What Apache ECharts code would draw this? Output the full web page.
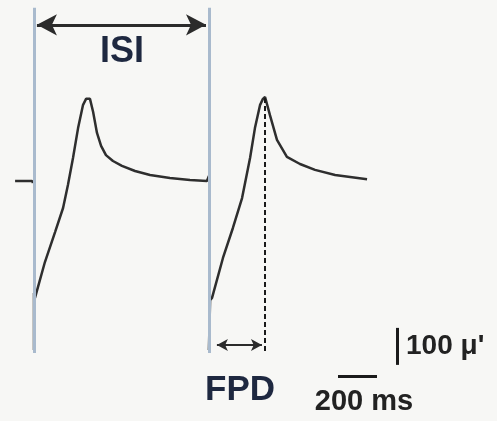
<!DOCTYPE html>
<html>
<head>
<meta charset="utf-8">
<script src="https://cdn.jsdelivr.net/npm/echarts@6/dist/echarts.min.js"></script>
<style>
  html, body { margin: 0; padding: 0; background: #f7f7f5; }
  #chart { width: 497px; height: 421px; }
</style>
</head>
<body>
<div id="chart"></div>
<script>
// Field potential trace, x in ms, y in µV (0 = baseline).
const leadIn = [[-97, 0], [-10, 0], [-5, -5]];
const cycle1 = [
  [0, -457], [0, -303], [5, -316], [56, -219], [108, -138], [149, -73], [174, -11],
  [200, 62], [226, 143], [251, 205], [267, 222], [277, 227], [287, 222], [303, 187],
  [323, 130], [344, 95], [369, 70], [405, 54], [451, 41], [518, 27], [595, 16],
  [697, 8], [800, 3], [887, 0], [897, 14]
];
const cycle2 = [
  [897, -457], [903, -322], [913, -316], [969, -208], [1020, -127], [1067, -46],
  [1108, 62], [1133, 143], [1159, 205], [1174, 222], [1185, 227], [1195, 222],
  [1210, 178], [1246, 111], [1297, 65], [1364, 46], [1441, 30], [1544, 16], [1708, 5]
];
// stimulus markers (ms) and their vertical extent (µV)
const markerTimes = [0, 897];
const markerRange = [-465, 468];
// ISI arrow: [start ms, end ms, µV]
const isiArrow = [15, 882, 422];
// FPD arrow and peak line
const fpdArrow = [938, 1169, -443];
const peakLine = [1185, 224, -462];
// scale bars: 100 µV and 200 ms
const vBar = [1862, -397, -497];
const hBar = [1559, 1759, -527];

const msPerPx = 200 / 39;
const uvPerPx = 100 / 37;

const chart = echarts.init(document.getElementById('chart'));

function seg(a, b) {
  return [{ coord: a }, { coord: b }];
}

chart.setOption({
  animation: false,
  backgroundColor: '#f7f7f5',
  grid: { left: 0, right: 0, top: 0, bottom: 0 },
  xAxis: { type: 'value', min: -34 * msPerPx, max: 463 * msPerPx, show: false },
  yAxis: { type: 'value', min: -240 * uvPerPx, max: 181 * uvPerPx, show: false },
  series: [
    {
      type: 'line', z: 1, data: [], silent: true,
      markLine: {
        silent: true, symbol: 'none', label: { show: false },
        lineStyle: { color: '#a9bacd', width: 3, type: 'solid' },
        data: markerTimes.map(function (t) { return seg([t, markerRange[0]], [t, markerRange[1]]); })
      }
    },
    {
      type: 'line', z: 2, data: [], silent: true,
      markLine: {
        silent: true, symbol: ['arrow', 'arrow'], symbolSize: [16, 20], label: { show: false },
        lineStyle: { color: '#2b2b2b', width: 3, type: 'solid' },
        data: [seg([isiArrow[0], isiArrow[2]], [isiArrow[1], isiArrow[2]])]
      }
    },
    {
      type: 'line', z: 2, data: [], silent: true,
      markLine: {
        silent: true, symbol: ['arrow', 'arrow'], symbolSize: [9, 11], label: { show: false },
        lineStyle: { color: '#2b2b2b', width: 2, type: 'solid' },
        data: [seg([fpdArrow[0], fpdArrow[2]], [fpdArrow[1], fpdArrow[2]])]
      }
    },
    {
      type: 'line', z: 2, data: [], silent: true,
      markLine: {
        silent: true, symbol: 'none', label: { show: false },
        lineStyle: { color: '#1a1a1a', width: 2, type: [5, 3] },
        data: [seg([peakLine[0], peakLine[1]], [peakLine[0], peakLine[2]])]
      }
    },
    {
      type: 'line', z: 2, data: [], silent: true,
      markLine: {
        silent: true, symbol: 'none', label: { show: false },
        lineStyle: { color: '#1a1a1a', width: 3, type: 'solid' },
        data: [
          seg([vBar[0], vBar[1]], [vBar[0], vBar[2]]),
          seg([hBar[0], hBar[2]], [hBar[1], hBar[2]])
        ]
      }
    },
    { type: 'line', z: 3, data: leadIn, symbol: 'none', lineStyle: { color: '#2e2e2e', width: 2.5 } },
    { type: 'line', z: 3, data: cycle1, symbol: 'none', lineStyle: { color: '#2e2e2e', width: 2.5 } },
    { type: 'line', z: 3, data: cycle2, symbol: 'none', lineStyle: { color: '#2e2e2e', width: 2.5 } }
  ],
  graphic: [
    { type: 'text', x: 122, y: 52, style: { text: 'ISI', font: 'bold 36px "Liberation Sans", Arial', fill: '#1e2840', align: 'center', verticalAlign: 'middle' } },
    { type: 'text', x: 240, y: 390, style: { text: 'FPD', font: 'bold 35px "Liberation Sans", Arial', fill: '#1e2840', align: 'center', verticalAlign: 'middle' } },
    { type: 'text', x: 406, y: 346, style: { text: '100 μ\'', font: 'bold 28px "Liberation Sans", Arial', fill: '#222', align: 'left', verticalAlign: 'middle' } },
    { type: 'text', x: 364, y: 402, style: { text: '200 ms', font: 'bold 29px "Liberation Sans", Arial', fill: '#222', align: 'center', verticalAlign: 'middle' } }
  ]
});
</script>
</body>
</html>
